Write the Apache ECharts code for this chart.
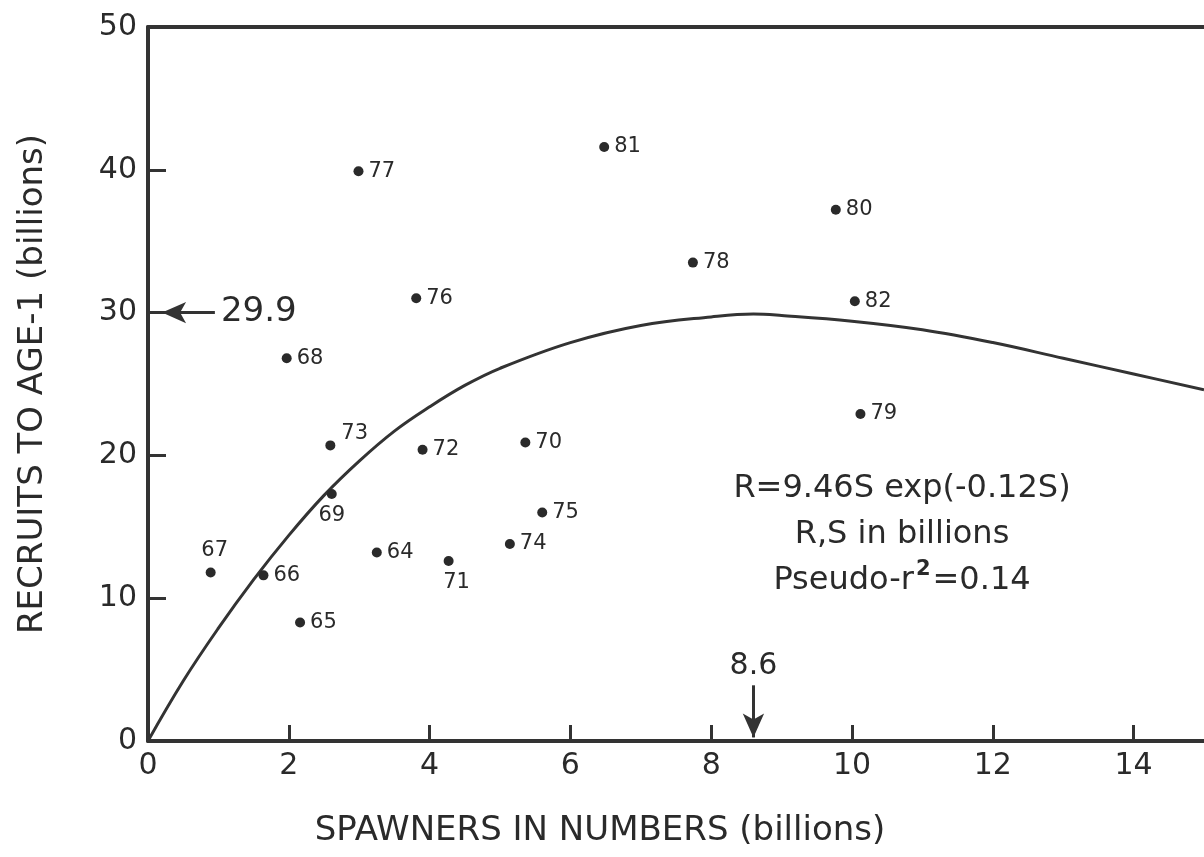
<!DOCTYPE html>
<html>
<head>
<meta charset="utf-8">
<script src="https://cdn.jsdelivr.net/npm/echarts@6/dist/echarts.min.js"></script>
<style>
  html, body { margin: 0; padding: 0; background: #fff; }
  #chart { width: 1204px; height: 857px; }
</style>
</head>
<body>
<div id="chart"></div>
<script>
// year labels and spawner / recruit values (billions)
const years = ["64", "65", "66", "67", "68", "69", "70", "71", "72", "73", "74", "75", "76", "77", "78", "79", "80", "81", "82"];
const spawners = [3.25, 2.16, 1.64, 0.89, 1.97, 2.61, 5.36, 4.27, 3.90, 2.59, 5.14, 5.60, 3.81, 2.99, 7.74, 10.12, 9.77, 6.48, 10.04];
const recruits = [13.2, 8.3, 11.6, 11.8, 26.8, 17.3, 20.9, 12.6, 20.4, 20.7, 13.8, 16.0, 31.0, 39.9, 33.5, 22.9, 37.2, 41.6, 30.8];

// fitted Ricker curve
const curveS = [0, 0.5, 1, 1.5, 2, 2.5, 3, 3.5, 4, 4.5, 5, 6, 7, 8, 8.6, 9, 10, 11, 12, 13, 14, 15];
const curveR = [0, 4.2, 7.9, 11.3, 14.4, 17.2, 19.6, 21.7, 23.4, 24.9, 26.1, 27.9, 29.1, 29.7, 29.9, 29.8, 29.4, 28.8, 27.9, 26.8, 25.7, 24.6];

// axis ticks
const xTicks = [0, 2, 4, 6, 8, 10, 12, 14];
const yTicks = [0, 10, 20, 30, 40, 50];

// peak annotation
const peakS = 8.6;
const peakR = 29.9;

const ink = "#333";
const txt = "#2a2a2a";
const font = "DejaVu Sans";

// a few labels sit above / below their dot instead of to the right
const labelSpecial = {
  "67": { position: "top", distance: 6, offset: [4, 0] },
  "69": { position: "bottom", distance: 6 },
  "71": { position: "bottom", distance: 6, offset: [8, 0] },
  "73": { position: "right", distance: 6, offset: [0, -12] }
};

const scatterData = years.map((y, i) => {
  const item = { value: [spawners[i], recruits[i]] };
  if (labelSpecial[y]) item.label = labelSpecial[y];
  return item;
});

const curveData = curveS.map((s, i) => [s, curveR[i]]);

const chart = echarts.init(document.getElementById("chart"), null, { renderer: "canvas" });

const option = {
  animation: false,
  backgroundColor: "#fff",
  grid: { left: 148, right: -4, top: 27, bottom: 116, containLabel: false },
  xAxis: [
    {
      type: "value",
      min: 0,
      max: 15,
      interval: 2,
      splitLine: { show: false },
      axisLine: { show: true, onZero: false, lineStyle: { color: ink, width: 4 } },
      axisTick: { show: true, inside: true, length: 16, lineStyle: { color: ink, width: 3 } },
      axisLabel: {
        margin: 10,
        color: txt,
        fontFamily: font,
        fontSize: 30,
        showMaxLabel: false,
        formatter: (v) => (xTicks.indexOf(v) >= 0 ? String(v) : "")
      }
    },
    {
      // top frame line
      type: "value",
      position: "top",
      min: 0,
      max: 15,
      axisLine: { show: true, onZero: false, lineStyle: { color: ink, width: 4 } },
      axisTick: { show: false },
      axisLabel: { show: false },
      splitLine: { show: false }
    }
  ],
  yAxis: {
    type: "value",
    min: 0,
    max: 50,
    interval: 10,
    name: "RECRUITS TO AGE-1 (billions)",
    nameLocation: "middle",
    nameGap: 98,
    nameTextStyle: { color: txt, fontFamily: font, fontSize: 34 },
    splitLine: { show: false },
    axisLine: { show: true, onZero: false, lineStyle: { color: ink, width: 4 } },
    axisTick: { show: true, inside: true, length: 18, lineStyle: { color: ink, width: 3 } },
    axisLabel: {
      margin: 11,
      color: txt,
      fontFamily: font,
      fontSize: 30,
      formatter: (v) => (yTicks.indexOf(v) >= 0 ? String(v) : "")
    }
  },
  graphic: [
    {
      type: "text",
      x: 600,
      y: 814,
      style: {
        text: "SPAWNERS IN NUMBERS (billions)",
        fill: txt,
        font: "34px 'DejaVu Sans'",
        textAlign: "center"
      }
    },
    {
      type: "text",
      x: 902,
      y: 466,
      style: {
        text: "R=9.46S exp(-0.12S)\nR,S in billions\n{n|Pseudo-r}{sup|2}{n|=0.14}",
        fill: txt,
        font: "32px 'DejaVu Sans'",
        lineHeight: 46,
        textAlign: "center",
        rich: {
          n: { fontSize: 32, fontFamily: font, fill: txt },
          sup: { fontSize: 21, fontFamily: font, fill: txt, fontWeight: "bold", padding: [0, 2, 22, 2] }
        }
      }
    }
  ],
  series: [
    {
      name: "fit",
      type: "line",
      data: curveData,
      smooth: 0.4,
      showSymbol: false,
      symbol: "none",
      lineStyle: { color: ink, width: 3 },
      z: 2,
      markLine: {
        silent: true,
        symbol: ["none", "arrow"],
        symbolSize: [16, 24],
        lineStyle: { color: ink, width: 3, type: "solid" },
        label: { color: txt, fontFamily: font },
        data: [
          [
            { coord: [0.95, 30], label: { show: true, position: "start", formatter: String(peakR), fontSize: 34, distance: 6 } },
            { coord: [0.2, 30] }
          ],
          [
            { coord: [peakS, 3.9], label: { show: true, position: "start", formatter: String(peakS), fontSize: 30, distance: 4 } },
            { coord: [peakS, 0.25] }
          ]
        ]
      }
    },
    {
      name: "years",
      type: "scatter",
      data: scatterData,
      symbolSize: 10,
      itemStyle: { color: "#2a2a2a", opacity: 1 },
      z: 3,
      label: {
        show: true,
        position: "right",
        distance: 5,
        color: txt,
        fontFamily: font,
        fontSize: 21,
        formatter: (p) => years[p.dataIndex]
      }
    }
  ]
};

chart.setOption(option);
</script>
</body>
</html>
